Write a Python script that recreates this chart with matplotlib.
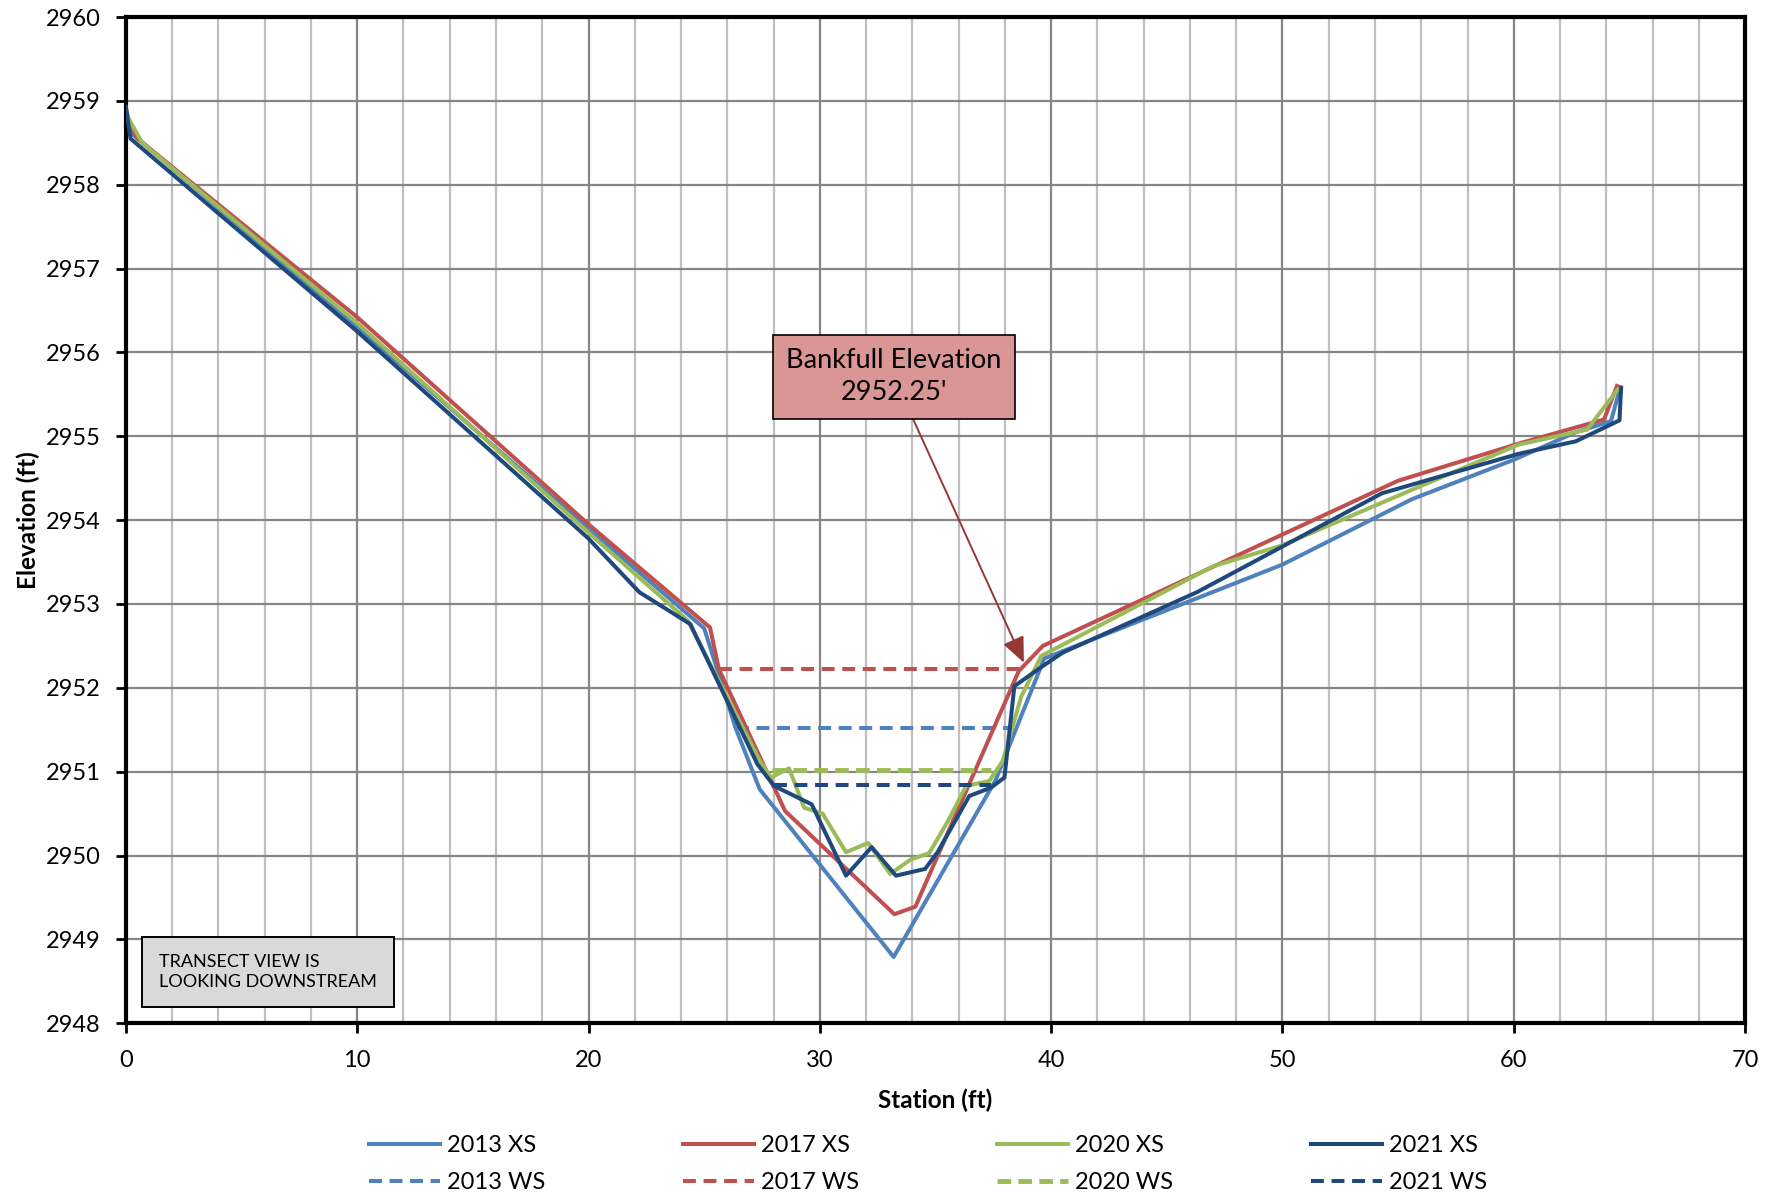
import matplotlib.pyplot as plt
import numpy as np

plt.rcParams['font.family'] = ['Lato', 'DejaVu Sans']

# cross-section surveys (station ft, elevation ft)
x2013 = [0, 0.3, 10, 20, 25.0, 26.36, 27.4, 33.19, 37.6, 39.7, 50, 55.6, 60, 62.7, 64.2, 64.6]
y2013 = [2958.9, 2958.6, 2956.3, 2953.9, 2952.71, 2951.52, 2950.79, 2948.79, 2950.9, 2952.35,
         2953.47, 2954.25, 2954.72, 2955.05, 2955.18, 2955.58]

x2017 = [0, 0.5, 10, 20, 25.25, 25.64, 28.5, 33.22, 34.13, 38.6, 39.64, 55, 60.3, 63.9, 64.46]
y2017 = [2958.8, 2958.55, 2956.42, 2953.95, 2952.72, 2952.22, 2950.53, 2949.30, 2949.39,
         2952.2, 2952.5, 2954.47, 2954.92, 2955.2, 2955.6]

x2020 = [0, 0.7, 10, 20, 24.3, 27.37, 27.88, 28.67, 29.32, 30.12, 31.13, 32.09, 33.04, 33.91,
         34.73, 35.6, 36.32, 37.33, 37.91, 38.7, 39.57, 47, 50, 55.5, 60.2, 63.17, 64.5]
y2020 = [2958.85, 2958.5, 2956.35, 2953.85, 2952.8, 2951.15, 2950.93, 2951.04, 2950.57, 2950.5,
         2950.04, 2950.15, 2949.78, 2949.95, 2950.03, 2950.44, 2950.83, 2950.89, 2951.13,
         2951.89, 2952.38, 2953.45, 2953.7, 2954.35, 2954.9, 2955.08, 2955.56]

x2021 = [0, 0.2, 10, 20, 22.2, 24.4, 27.3, 28.02, 29.65, 31.13, 32.24, 33.29, 34.55, 35.09,
         36.46, 37.4, 37.98, 38.41, 39.64, 40.5, 46.3, 54.3, 60.2, 62.68, 64.57, 64.64]
y2021 = [2958.93, 2958.55, 2956.25, 2953.78, 2953.14, 2952.76, 2951.09, 2950.83, 2950.61,
         2949.76, 2950.10, 2949.76, 2949.84, 2950.04, 2950.71, 2950.81, 2950.93, 2952.02,
         2952.26, 2952.42, 2953.14, 2954.32, 2954.79, 2954.94, 2955.19, 2955.58]

# water surface lines: (start, end), elevation
ws2013 = ([26.36, 38.41], [2951.52, 2951.52])
ws2017 = ([25.64, 38.77], [2952.22, 2952.22])
ws2020 = ([27.95, 37.4], [2951.02, 2951.02])
ws2021 = ([28.02, 37.4], [2950.845, 2950.845])

c13, c17, c20, c21 = '#4F81BD', '#C0504D', '#9BBB59', '#1F497D'

fig = plt.figure(figsize=(17.78, 11.99), dpi=100)
ax = fig.add_axes([0.0708, 0.1466, 0.9107, 0.8392])

lw = 2.9
dash = (3.2, 1.9)
ax.plot(x2013, y2013, color=c13, lw=lw, label='2013 XS', zorder=3)
ax.plot(*ws2013, color=c13, lw=lw, dashes=dash, label='2013 WS', zorder=3)
ax.plot(x2017, y2017, color=c17, lw=lw, label='2017 XS', zorder=3)
ax.plot(*ws2017, color=c17, lw=lw, dashes=dash, label='2017 WS', zorder=3)
ax.plot(x2020, y2020, color=c20, lw=lw, label='2020 XS', zorder=3)
ax.plot(*ws2020, color=c20, lw=lw + 0.6, dashes=(2.8, 1.5), label='2020 WS', zorder=3)
ax.plot(x2021, y2021, color=c21, lw=lw, label='2021 XS', zorder=3)
ax.plot(*ws2021, color=c21, lw=lw, dashes=dash, label='2021 WS', zorder=3)

ax.set_xlim(0, 70)
ax.set_ylim(2948, 2960)
ax.set_xticks(np.arange(0, 71, 10))
ax.set_xticks(np.arange(0, 71, 2), minor=True)
ax.set_yticks(np.arange(2948, 2961, 1))
ax.grid(which='major', axis='both', color='#868686', lw=1.6, zorder=0)
ax.grid(which='minor', axis='x', color='#BFBFBF', lw=1.6, zorder=0)
ax.tick_params(which='major', direction='out', length=7, width=2, labelsize=17, pad=11)
ax.tick_params(which='minor', length=0)
ax.tick_params(axis='x', pad=12)
for s in ax.spines.values():
    s.set_linewidth(3)
    s.set_color('black')

ax.set_xlabel('Station (ft)', fontsize=17.5, fontweight='bold', labelpad=13)
ax.set_ylabel('Elevation (ft)', fontsize=17.5, fontweight='bold', labelpad=4)

ax.annotate("Bankfull Elevation\n2952.25'", xy=(38.82, 2952.30), xytext=(33.2, 2955.71),
            ha='center', va='center', fontsize=19.5, linespacing=1.35,
            bbox=dict(boxstyle='square,pad=0.5', fc='#DA9694', ec='black', lw=1.2),
            arrowprops=dict(arrowstyle='-|>,head_length=0.8,head_width=0.35', color='#953735',
                            lw=1.4, shrinkA=0, shrinkB=0), zorder=5)

ax.text(1.42, 2948.61, 'TRANSECT VIEW IS\nLOOKING DOWNSTREAM', ha='left', va='center',
        fontsize=13, linespacing=1.3,
        bbox=dict(boxstyle='square,pad=0.95', fc='#D9D9D9', ec='black', lw=1.4), zorder=5)

fig.legend(loc='lower center', bbox_to_anchor=(0.522, -0.013), ncol=4, frameon=False,
           fontsize=17, handlelength=3.0, columnspacing=5.85, handletextpad=0.3,
           labelspacing=0.7)

fig.savefig('out.png', dpi=100)
